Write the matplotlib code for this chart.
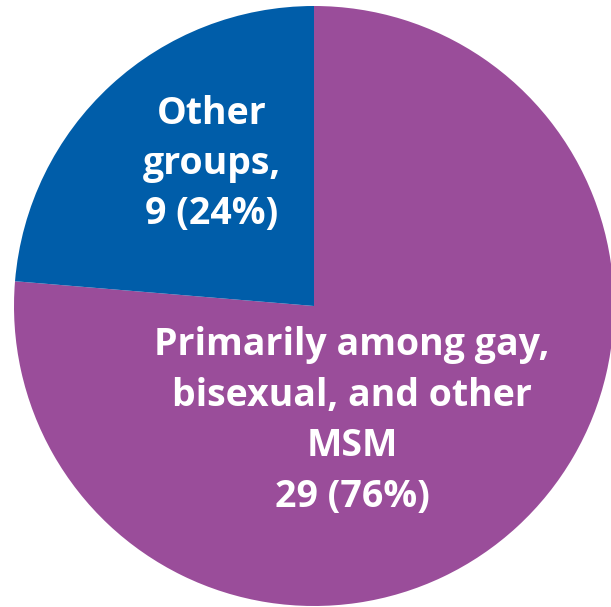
import matplotlib
matplotlib.use("Agg")
import matplotlib.pyplot as plt

categories = ["Primarily among gay,\nbisexual, and other\nMSM", "Other\ngroups,"]
values = [29, 9]
percents = [76, 24]
colors = ["#9A4D9A", "#005DA9"]

W, H = 611, 607
cx, cy, r = 314, 306, 300

fig = plt.figure(figsize=(W / 100, H / 100), dpi=100)
ax = fig.add_axes([0, 0, 1, 1])
ax.pie(values, colors=colors, startangle=90, counterclock=False, radius=1,
       wedgeprops=dict(linewidth=0))
ax.set_xlim(-cx / r, (W - cx) / r)
ax.set_ylim(-(H - cy) / r, cy / r)
ax.set_aspect("auto")
ax.axis("off")

font = dict(family=["Open Sans", "DejaVu Sans"], weight="bold", color="white",
            ha="center", va="center", fontsize=27, linespacing=1.43)

def px(x, y):
    return x / W, 1 - y / H

lab0 = f"{categories[0]}\n{values[0]} ({percents[0]}%)"
lab1 = f"{categories[1]}\n{values[1]} ({percents[1]}%)"
ax.text(*px(352, 421), lab0, transform=fig.transFigure, **font)
ax.text(*px(212, 164), lab1, transform=fig.transFigure, **font)

fig.savefig("out.png", dpi=100)
